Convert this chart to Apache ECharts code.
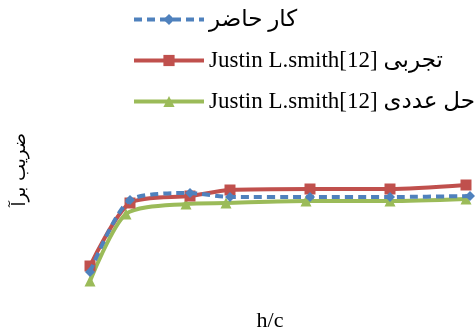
<!DOCTYPE html>
<html><head><meta charset="utf-8">
<script src="https://cdn.jsdelivr.net/npm/echarts@6/dist/echarts.min.js"></script>
<style>html,body{margin:0;padding:0;background:#fff}#c{width:476px;height:336px}</style>
</head><body><div id="c"></div>
<script>
const seriesNames = ['کار حاضر', 'Justin L.smith[12] تجربی', 'Justin L.smith[12] حل عددی'];
const xTitle = 'h/c';
const yTitle = 'ضریب برآ';
const presentX = [0.05, 0.15, 0.30, 0.40, 0.60, 0.80, 1.00];
const presentY = [0.28, 1.00, 1.07, 1.03, 1.03, 1.03, 1.04];
const expX = [0.05, 0.15, 0.30, 0.40, 0.60, 0.80, 0.99];
const expY = [0.34, 0.97, 1.04, 1.10, 1.11, 1.11, 1.15];
const numX = [0.05, 0.14, 0.29, 0.39, 0.59, 0.80, 0.99];
const numY = [0.19, 0.86, 0.96, 0.97, 0.99, 0.99, 1.01];

const pairs = (xs, ys) => xs.map((x, i) => [x, ys[i]]);
const font = "'Liberation Serif', 'DejaVu Sans', serif";
const chart = echarts.init(document.getElementById('c'), null, {renderer: 'canvas'});
chart.setOption({
  animation: false,
  textStyle: {fontFamily: font},
  legend: {
    orient: 'vertical', left: 127, top: 3, itemWidth: 70, itemHeight: 14, itemGap: 18,
    lineStyle: {width: 4},
    textStyle: {fontSize: 23, color: '#000', fontFamily: font},
    data: seriesNames
  },
  grid: {left: 70, right: 6, top: 100, bottom: 36, outerBoundsMode: 'none'},
  xAxis: {
    type: 'value', min: 0, max: 1,
    name: xTitle, nameLocation: 'middle', nameGap: 10,
    nameTextStyle: {fontSize: 22, color: '#000', fontFamily: font},
    axisLine: {show: false}, axisTick: {show: false}, axisLabel: {show: false}, splitLine: {show: false}
  },
  yAxis: {
    type: 'value', min: 0, max: 2,
    axisLine: {show: false}, axisTick: {show: false}, axisLabel: {show: false}, splitLine: {show: false}
  },
  graphic: [{
    type: 'text', left: 11, top: 133, rotation: Math.PI / 2,
    style: {text: yTitle, fill: '#000', font: "18px 'DejaVu Sans'"}
  }],
  series: [
    {name: seriesNames[0], type: 'line', data: pairs(presentX, presentY), smooth: 0.25, clip: false,
     symbol: 'diamond', symbolSize: 10, z: 3,
     itemStyle: {color: '#4F81BD'}, lineStyle: {color: '#4F81BD', width: 4, type: [8, 5]}},
    {name: seriesNames[1], type: 'line', data: pairs(expX, expY), smooth: 0.25, clip: false,
     symbol: 'rect', symbolSize: 11, z: 2,
     itemStyle: {color: '#C0504D'}, lineStyle: {color: '#C0504D', width: 4}},
    {name: seriesNames[2], type: 'line', data: pairs(numX, numY), smooth: 0.25, clip: false,
     symbol: 'triangle', symbolSize: 11, z: 1,
     itemStyle: {color: '#9BBB59'}, lineStyle: {color: '#9BBB59', width: 4}}
  ]
});
</script></body></html>
